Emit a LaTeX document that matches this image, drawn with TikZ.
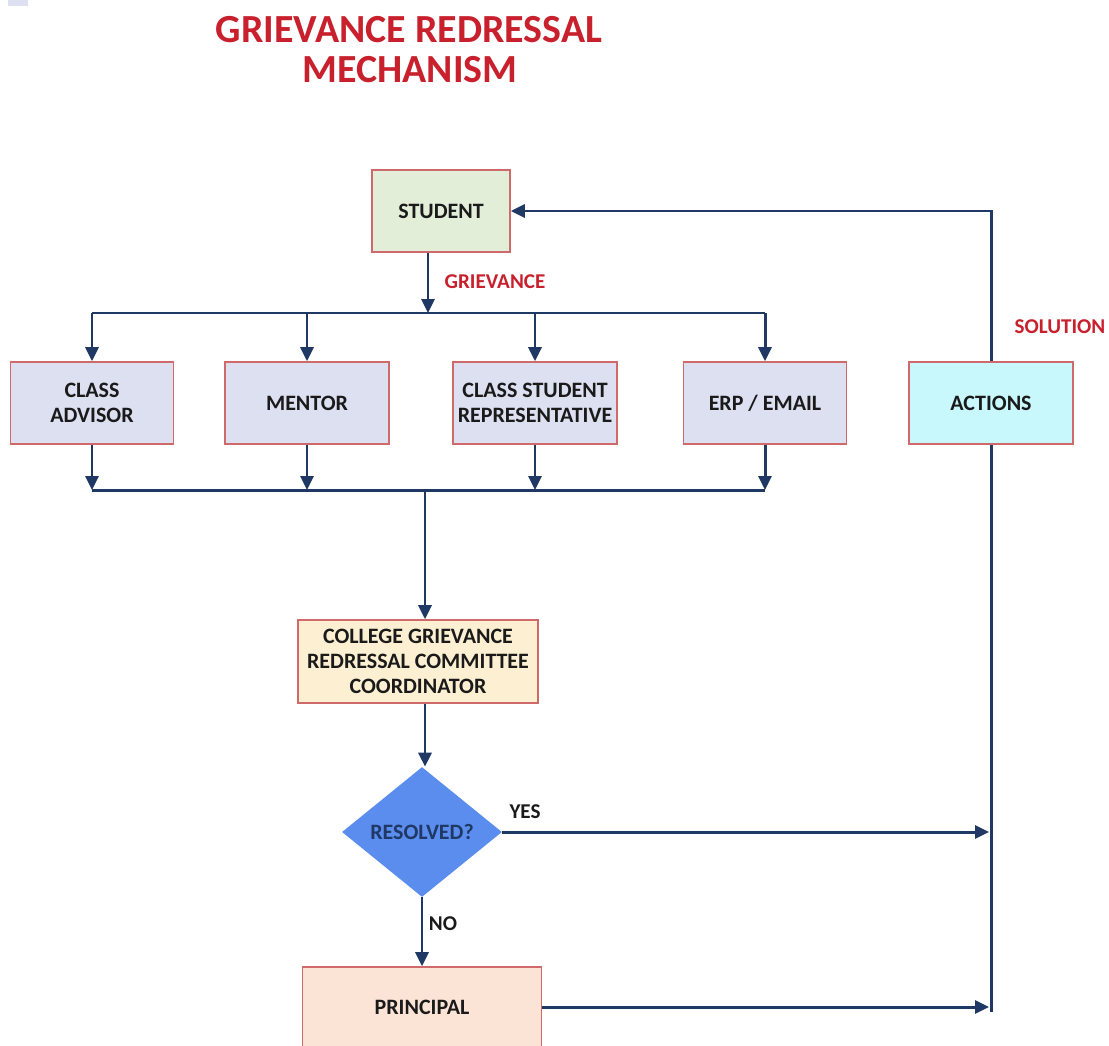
\documentclass[tikz,border=0pt]{standalone}
\usepackage{fontspec}
\setmainfont{Carlito}
\usetikzlibrary{arrows.meta,shapes.geometric}
\definecolor{navy}{HTML}{1F3864}
\definecolor{titlered}{HTML}{C8202C}
\definecolor{boxborder}{HTML}{D06A6A}
\definecolor{fgreen}{HTML}{E3EED9}
\definecolor{flav}{HTML}{DCE0F0}
\definecolor{fcyan}{HTML}{C8F8FC}
\definecolor{fpeach}{HTML}{FDF0D2}
\definecolor{fpink}{HTML}{FBE4D5}
\definecolor{fblue}{HTML}{5A8DEE}
\definecolor{txt}{HTML}{1A1A1A}
\tikzset{
  box/.style={draw=boxborder, line width=0.9pt, align=center, text=txt,
    font=\fontsize{12.5}{14.2}\selectfont\bfseries, inner sep=2pt,
    minimum height=1.64cm},
  conn/.style={draw=navy, line width=1.7pt},
  arr/.style={conn, -{Triangle[length=0.28cm,width=0.26cm]}},
  lbl/.style={font=\fontsize{12}{14}\selectfont\bfseries},
}
\begin{document}
\begin{tikzpicture}[x=0.02cm,y=-0.02cm]
\useasboundingbox (0,0) rectangle (1109,1045);
\clip (0,0) rectangle (1109,1045);
\fill[flav] (8,0) rectangle (28,6);
% title
\node[text=titlered, font=\fontsize{22.7}{25}\selectfont\bfseries] (t1) at (409,30) {GRIEVANCE REDRESSAL};
\node[text=titlered, font=\fontsize{22.7}{25}\selectfont\bfseries] (t2) at (410,70) {MECHANISM};
% nodes
\node[box, fill=fgreen, minimum width=2.76cm] (student) at (441,211) {STUDENT};
\node[box, fill=flav, minimum width=3.26cm] (advisor) at (92,403) {CLASS\\ADVISOR};
\node[box, fill=flav, minimum width=3.28cm] (mentor) at (307,403) {MENTOR};
\node[box, fill=flav, minimum width=3.28cm] (csr) at (535,403) {CLASS STUDENT\\REPRESENTATIVE};
\node[box, fill=flav, minimum width=3.26cm] (erp) at (765,403) {ERP / EMAIL};
\node[box, fill=fcyan, minimum width=3.28cm] (actions) at (991,403) {ACTIONS};
\node[box, fill=fpeach, minimum width=4.8cm, minimum height=1.66cm] (coord) at (418,661.5) {COLLEGE GRIEVANCE\\REDRESSAL COMMITTEE\\COORDINATOR};
\node[diamond, fill=fblue, minimum width=3.2cm, minimum height=2.6cm, inner sep=0pt,
  text=navy, font=\fontsize{12.5}{14}\selectfont\bfseries] (dec) at (422,832) {RESOLVED?};
\node[box, fill=fpink, minimum width=4.78cm, minimum height=1.6cm] (principal) at (422,1007) {PRINCIPAL};
% coordinates
\coordinate (s1) at (428,313);
\coordinate (bl) at (92,313);
\coordinate (br) at (765,313);
\coordinate (m1) at (307,313);
\coordinate (m2) at (535,313);
\coordinate (b1) at (92,490);
\coordinate (b2) at (307,490);
\coordinate (b3) at (535,490);
\coordinate (b4) at (765,490);
\coordinate (bc) at (425,490);
\coordinate (vend) at (991,1012);
\coordinate (yesend) at (989,832);
\coordinate (noend) at (989,1007);
% top distribution
\draw[arr] (student.south -| s1) -- (s1);
\draw[conn] (bl) -- (br);
\draw[arr] (bl) -- (bl |- advisor.north);
\draw[arr] (m1) -- (m1 |- mentor.north);
\draw[arr] (m2) -- (m2 |- csr.north);
\draw[arr] (br) -- (br |- erp.north);
% collection
\draw[arr] (b1 |- advisor.south) -- (b1);
\draw[arr] (b2 |- mentor.south) -- (b2);
\draw[arr] (b3 |- csr.south) -- (b3);
\draw[arr] (b4 |- erp.south) -- (b4);
\draw[conn] (b1) -- (b4);
\draw[arr] (bc) -- (bc |- coord.north);
\draw[arr] (coord.south -| bc) -- (dec.north -| bc);
% decision
\draw[arr] (dec.east) -- (yesend);
\draw[arr] (dec.south) -- (principal.north);
\draw[arr] (principal.east) -- (noend);
% return
\draw[conn] (vend) -- (actions.south);
\draw[arr] (actions.north) |- (student.east);
% labels
\node[lbl, text=titlered] (lg) at (495,282) {GRIEVANCE};
\node[lbl, text=titlered] (ls) at (1060,327) {SOLUTION};
\node[lbl, text=txt] (ly) at (525,812) {YES};
\node[lbl, text=txt] (ln) at (443,924) {NO};
\end{tikzpicture}
\end{document}
